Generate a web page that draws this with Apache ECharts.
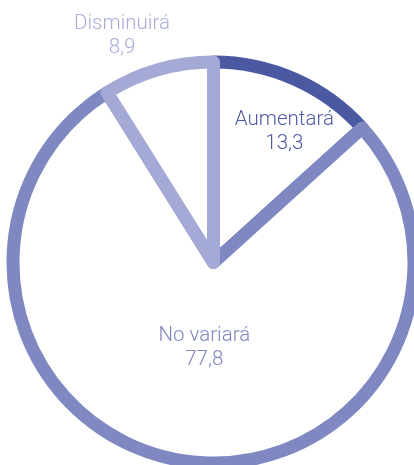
<!DOCTYPE html>
<html>
<head>
<meta charset="utf-8">
<script src="https://cdn.jsdelivr.net/npm/echarts@6/dist/echarts.min.js"></script>
<style>
  html, body { margin: 0; padding: 0; background: #fff; }
  #main { width: 414px; height: 465px; }
</style>
</head>
<body>
<div id="main"></div>
<script>
// datos del gráfico
var categorias = ['Aumentará', 'No variará', 'Disminuirá'];
var valores = [13.3, 77.8, 8.9];
var colores = ['#4b58a2', '#7f88c1', '#a4a9d6'];
var colorTexto = ['#4f5ba6', '#7f86c0', '#a9add8'];
// desplazamiento de cada etiqueta respecto a su posición 'inside'
var desplaz = [[29, -36], [5, -17], [-63, -127]];

var myChart = echarts.init(document.getElementById('main'));

var data = [];
for (var i = 0; i < categorias.length; i++) {
    data.push({
        name: categorias[i],
        value: valores[i],
        itemStyle: {color: '#ffffff', borderColor: colores[i]},
        label: {color: colorTexto[i], offset: desplaz[i]}
    });
}

myChart.setOption({
    animation: false,
    series: [{
        type: 'pie',
        center: [213.5, 262.5],
        radius: [0, 200.5],
        startAngle: 90,
        clockwise: true,
        silent: true,
        itemStyle: {
            borderWidth: 13,
            borderJoin: 'round'
        },
        label: {
            show: true,
            position: 'inside',
            fontFamily: 'Roboto',
            fontWeight: 300,
            fontSize: 20.5,
            lineHeight: 24,
            align: 'center',
            formatter: function (p) {
                return p.name + '\n' + String(p.value).replace('.', ',');
            }
        },
        labelLine: {show: false},
        data: data
    }]
});
</script>
</body>
</html>
